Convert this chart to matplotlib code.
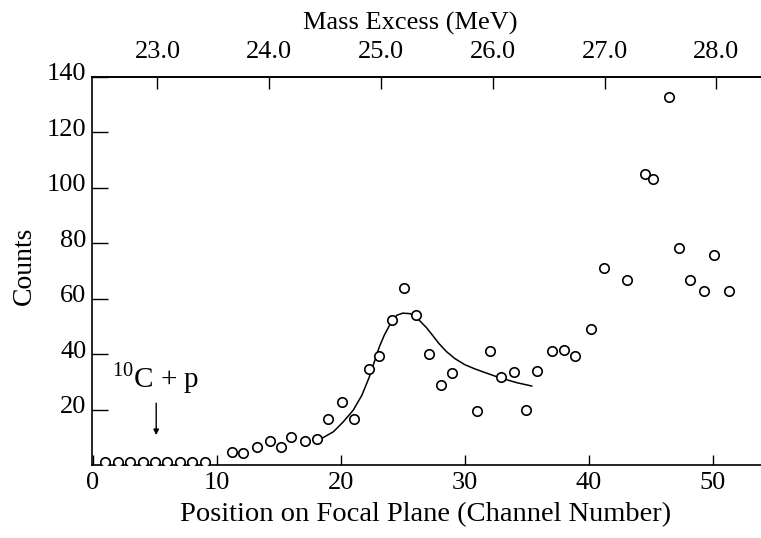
import matplotlib
matplotlib.use("Agg")
import matplotlib.pyplot as plt
from matplotlib.transforms import ScaledTranslation

plt.rcParams["font.family"] = ["Liberation Serif", "DejaVu Serif"]
plt.rcParams["mathtext.fontset"] = "custom"
plt.rcParams["mathtext.rm"] = "Liberation Serif"

# measured spectrum: channel number vs counts
channel = [1, 2, 3, 4, 5, 6, 7, 8, 9,
           11.2, 12.1, 13.2, 14.3, 15.2, 16.0, 17.1, 18.1, 19.0, 20.1,
           21.1, 22.3, 23.1, 24.1, 25.1, 26.1, 27.1, 28.1, 29.0, 31.0,
           32.0, 32.9, 34.0, 34.9, 35.8, 37.0, 38.0, 38.9, 40.2, 41.2,
           43.1, 44.5, 45.2, 46.5, 47.3, 48.2, 49.3, 50.1, 51.3]
counts = [1, 1, 1, 1, 1, 1, 1, 1, 1,
          4.7, 4.3, 6.5, 8.6, 6.5, 10.1, 8.6, 9.4, 16.5, 22.7,
          16.5, 34.5, 39.2, 52.2, 63.7, 54.0, 39.9, 28.8, 33.1, 19.4,
          41.0, 31.7, 33.5, 19.8, 33.8, 41.0, 41.4, 39.2, 48.9, 71.2,
          66.9, 105.0, 103.2, 132.7, 78.4, 66.9, 62.9, 75.9, 62.9]

# fitted resonance curve
fit_channel = [18.3, 19.4, 20.2, 21.0, 21.7, 22.3, 22.7, 23.1, 23.5, 24.0,
               24.5, 25.0, 25.6, 26.2, 26.9, 27.4, 27.9, 28.5, 29.2, 30.0,
               30.8, 31.6, 32.8, 34.2, 35.4]
fit_counts = [9.2, 12.0, 15.6, 19.8, 25.2, 31.8, 37.2, 42.6, 46.8, 51.0,
              54.0, 54.8, 54.6, 52.8, 49.6, 46.8, 43.9, 41.0, 38.4, 36.2,
              34.7, 33.4, 31.5, 29.7, 28.5]

y_ticks = [20, 40, 60, 80, 100, 120, 140]
x_ticks = [0, 10, 20, 30, 40, 50]
mass_ticks = [23.0, 24.0, 25.0, 26.0, 27.0, 28.0]

# channel <-> mass excess calibration
CH_AT_23 = 5.2
CH_PER_MEV = 9.02


def ch_to_mev(c):
    return 23.0 + (c - CH_AT_23) / CH_PER_MEV


def mev_to_ch(m):
    return CH_AT_23 + (m - 23.0) * CH_PER_MEV


W, H = 761, 538
fig = plt.figure(figsize=(W / 100, H / 100), dpi=100)
ax = fig.add_axes([92 / W, (H - 465) / H, (W - 92) / W, (465 - 77) / H])

ax.plot(channel, counts, "o", ms=6.8, mfc="white", mec="black", mew=1.2,
        linestyle="none", zorder=3)
ax.plot(fit_channel, fit_counts, color="black", lw=1.1, zorder=2)

ax.set_xlim(-0.08, 53.9)
ax.set_ylim(0, 140)
ax.spines["right"].set_visible(False)
for s in ("left", "bottom", "top"):
    ax.spines[s].set_linewidth(1.2)

ax.set_xticks(x_ticks)
ax.set_yticks(y_ticks)
ax.tick_params(axis="x", direction="in", length=7, width=1.0, pad=5,
               labelsize=19)
ax.tick_params(axis="y", direction="in", length=11.5, width=1.0, pad=4,
               labelsize=19)
for lbl in ax.get_yticklabels():
    lbl.set_transform(lbl.get_transform()
                      + ScaledTranslation(0, 0.05, fig.dpi_scale_trans))

top = ax.secondary_xaxis("top", functions=(ch_to_mev, mev_to_ch))
top.set_xticks(mass_ticks)
top.set_xticklabels([f"{m:.1f}" for m in mass_ticks])
top.tick_params(direction="in", length=8.5, width=1.0, pad=10, labelsize=19)
top.spines["top"].set_linewidth(1.2)

# reaction threshold marker
ax.text(1.5, 28, r"$^{\mathrm{10}}$C + p", fontsize=21, ha="left",
        va="baseline")
ax.annotate("", xy=(5.1, 10.8), xytext=(5.1, 22.3),
            arrowprops=dict(arrowstyle="-|>", color="black", lw=1.0,
                            mutation_scale=8, shrinkA=0, shrinkB=0))

fig.text(410 / W, 1 - 23 / H, "Mass Excess (MeV)", fontsize=19,
         ha="center", va="center")
fig.text(426 / W, 1 - 515 / H, "Position on Focal Plane (Channel Number)",
         fontsize=20.5, ha="center", va="center")
fig.text(24 / W, 1 - 266 / H, "Counts", fontsize=20, rotation=90,
         ha="center", va="center")

fig.savefig("out.png", dpi=100)
